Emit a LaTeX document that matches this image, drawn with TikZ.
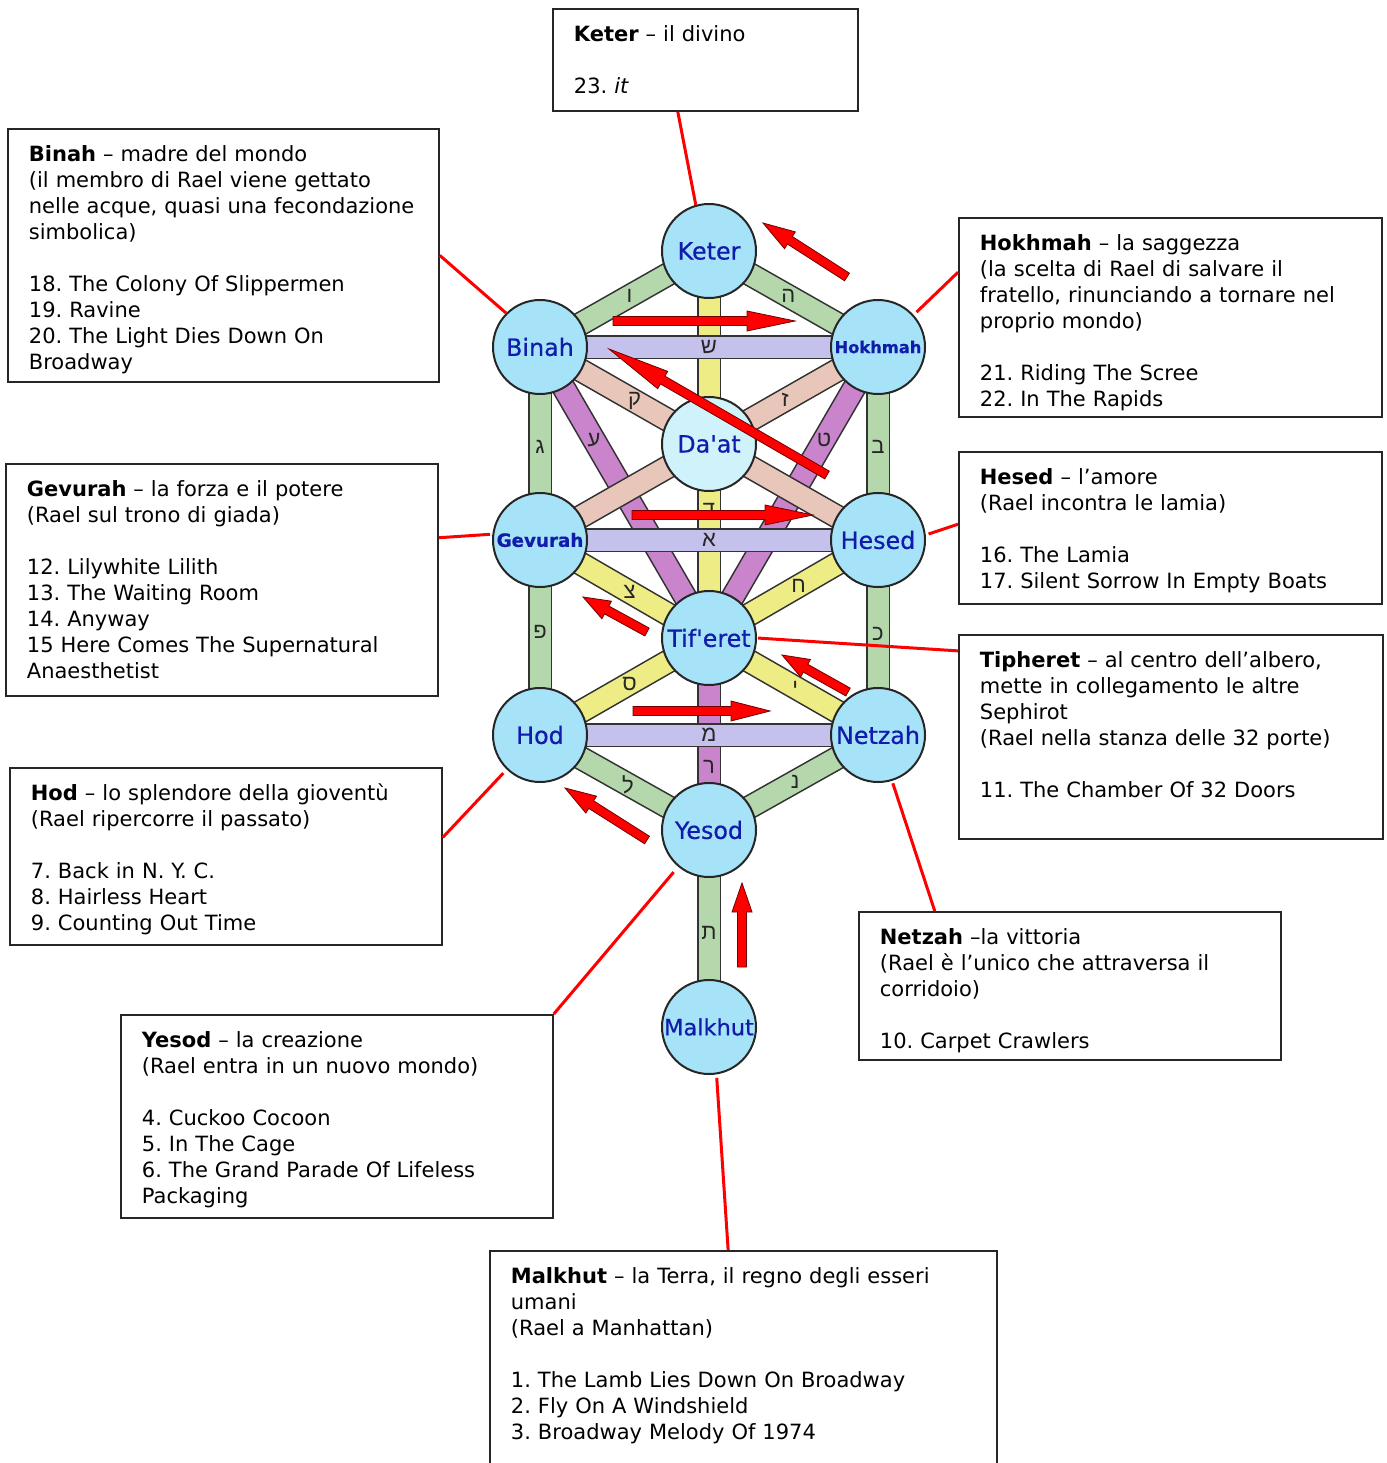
\documentclass[tikz,border=0pt]{standalone}
\usepackage{fontspec}
\setmainfont{DejaVu Sans}
\newfontfamily\labelfont{DejaVu Sans}[Ligatures=TeXOff, FakeBold=0.6]
\newfontfamily\hebfont[Script=Hebrew]{Liberation Sans}
\usepackage{tikz}
\usetikzlibrary{calc, backgrounds}
\frenchspacing
\definecolor{sephblue}{RGB}{166,227,248}
\definecolor{daatblue}{RGB}{208,242,250}
\definecolor{labelblue}{RGB}{18,28,170}
\definecolor{pathgreen}{RGB}{180,216,172}
\definecolor{pathyellow}{RGB}{238,236,132}
\definecolor{pathlav}{RGB}{196,194,236}
\definecolor{pathsalmon}{RGB}{232,198,186}
\definecolor{pathorchid}{RGB}{202,132,204}
\newcommand{\redarrow}[3]{%
  \coordinate (ah) at ($(#2)!#3pt!(#1)$);
  \filldraw[bigarrow] ($(#1)!4.5pt!90:(#2)$) -- ($(ah)!4.5pt!-90:(#1)$)
    -- ($(ah)!10pt!-90:(#1)$) -- (#2) -- ($(ah)!10pt!90:(#1)$)
    -- ($(ah)!4.5pt!90:(#1)$) -- ($(#1)!4.5pt!-90:(#2)$) -- cycle;}

\begin{document}
\begin{tikzpicture}[x=1pt, y=-1pt,
                  sephira/.style={circle,draw=black!85,line width=2pt,fill=sephblue,minimum size=94pt,
                    inner sep=0pt,text=labelblue,font=\labelfont\fontsize{23.8}{24}\selectfont},
                  bar/.style={draw=black!80,line width=1.6pt,double=#1,double distance=21pt},
                  letter/.style={font=\hebfont\fontsize{22}{22}\selectfont,text=black!85,inner sep=0pt},
                  infobox/.style={draw=black!85,line width=1.8pt,anchor=north west,inner xsep=21pt,
                    inner ysep=0pt,align=left,text height=32.5pt,font=\fontsize{21}{26}\selectfont},
                  link/.style={draw=red,line width=3pt},
                  bigarrow/.style={fill=red,draw=red!45!black,line width=0.8pt}
                  ]
                  \useasboundingbox (0,0) rectangle (1386,1463);
                  \node[sephira] (keter) at (709,251) {Keter};
                  \node[sephira] (binah) at (540,347) {Binah};
                  \node[sephira, font=\labelfont\bfseries\fontsize{16.3}{17}\selectfont] (hokhmah) at (878,347) {Hokhmah};
                  \node[sephira, fill=daatblue] (daat) at (709,444) {Da'at};
                  \node[sephira, font=\labelfont\bfseries\fontsize{18.3}{19}\selectfont] (gevurah) at (540,540) {Gevurah};
                  \node[sephira] (hesed) at (878,540) {Hesed};
                  \node[sephira] (tiferet) at (709,638) {Tif'eret};
                  \node[sephira] (hod) at (540,735) {Hod};
                  \node[sephira] (netzah) at (878,735) {Netzah};
                  \node[sephira] (yesod) at (709,830) {Yesod};
                  \node[sephira, font=\labelfont\fontsize{22.5}{23}\selectfont] (malkhut) at (709,1027) {Malkhut};

                  \begin{scope}[on background layer]
                  \fill[white] (0,0) rectangle (1386,1463);
                  \draw[bar=pathgreen] (keter.center) -- node[letter, pos=0.47] {ו} (binah.center);
                  \draw[bar=pathgreen] (keter.center) -- node[letter, pos=0.47] {ה} (hokhmah.center);
                  \draw[bar=pathgreen] (binah.center) -- node[letter, pos=0.52] {ג} (gevurah.center);
                  \draw[bar=pathgreen] (hokhmah.center) -- node[letter, pos=0.52] {ב} (hesed.center);
                  \draw[bar=pathgreen] (gevurah.center) -- node[letter, pos=0.47] {פ} (hod.center);
                  \draw[bar=pathgreen] (hesed.center) -- node[letter, pos=0.48] {כ} (netzah.center);
                  \draw[bar=pathgreen] (hod.center) -- node[letter, pos=0.52] {ל} (yesod.center);
                  \draw[bar=pathgreen] (netzah.center) -- node[letter, pos=0.49] {נ} (yesod.center);
                  \draw[bar=pathgreen] (yesod.center) -- node[letter, pos=0.52] {ת} (malkhut.center);
                  \draw[bar=pathyellow] (keter.center) -- node[letter, pos=0.67] {ד} (tiferet.center);
                  \draw[bar=pathyellow] (gevurah.center) -- node[letter, pos=0.53] {צ} (tiferet.center);
                  \draw[bar=pathyellow] (hesed.center) -- node[letter, pos=0.47] {ח} (tiferet.center);
                  \draw[bar=pathyellow] (hod.center) -- node[letter, pos=0.53] {ס} (tiferet.center);
                  \draw[bar=pathyellow] (netzah.center) -- node[letter, pos=0.49] {י} (tiferet.center);
                  \draw[bar=pathorchid] (binah.center) -- node[letter, pos=0.32] {ע} (tiferet.center);
                  \draw[bar=pathorchid] (hokhmah.center) -- node[letter, pos=0.32] {ט} (tiferet.center);
                  \draw[bar=pathorchid] (tiferet.center) -- node[letter, pos=0.67] {ר} (yesod.center);
                  \draw[bar=pathsalmon] (binah.center) -- node[letter, pos=0.28] {ק} (hesed.center);
                  \draw[bar=pathsalmon] (hokhmah.center) -- node[letter, pos=0.275] {ז} (gevurah.center);
                  \draw[bar=pathlav] (binah.center) -- node[letter, pos=0.5] {ש} (hokhmah.center);
                  \draw[bar=pathlav] (gevurah.center) -- node[letter, pos=0.5] {א} (hesed.center);
                  \draw[bar=pathlav] (hod.center) -- node[letter, pos=0.5] {מ} (netzah.center);
                  \end{scope}

                  \node[infobox, text width=263pt, text depth=69.5pt] (keterbox) at (552,8)
                    {\textbf{Keter} – il divino\\[26pt]
                     23. \textit{it}};
                  \node[infobox, text width=389pt, text depth=220.5pt] (binahbox) at (7,128)
                    {\textbf{Binah} – madre del mondo\\
                     (il membro di Rael viene gettato\\
                     nelle acque, quasi una fecondazione\\
                     simbolica)\\[26pt]
                     18. The Colony Of Slippermen\\
                     19. Ravine\\
                     20. The Light Dies Down On\\
                     Broadway};
                  \node[infobox, text width=381pt, text depth=166.5pt] (hokhmahbox) at (958,217)
                    {\textbf{Hokhmah} – la saggezza\\
                     (la scelta di Rael di salvare il\\
                     fratello, rinunciando a tornare nel\\
                     proprio mondo)\\[26pt]
                     21. Riding The Scree\\
                     22. In The Rapids};
                  \node[infobox, text width=390pt, text depth=199.5pt] (gevurahbox) at (5,463)
                    {\textbf{Gevurah} – la forza e il potere\\
                     (Rael sul trono di giada)\\[26pt]
                     12. Lilywhite Lilith\\
                     13. The Waiting Room\\
                     14. Anyway\\
                     15 Here Comes The Supernatural\\
                     Anaesthetist};
                  \node[infobox, text width=381pt, text depth=119.5pt] (hesedbox) at (958,451)
                    {\textbf{Hesed} – l’amore\\
                     (Rael incontra le lamia)\\[26pt]
                     16. The Lamia\\
                     17. Silent Sorrow In Empty Boats};
                  \node[infobox, text width=382pt, text depth=171.5pt] (tipheretbox) at (958,634)
                    {\textbf{Tipheret} – al centro dell’albero,\\
                     mette in collegamento le altre\\
                     Sephirot\\
                     (Rael nella stanza delle 32 porte)\\[26pt]
                     11. The Chamber Of 32 Doors};
                  \node[infobox, text width=390pt, text depth=144.5pt] (hodbox) at (9,767)
                    {\textbf{Hod} – lo splendore della gioventù\\
                     (Rael ripercorre il passato)\\[26pt]
                     7. Back in N. Y. C.\\
                     8. Hairless Heart\\
                     9. Counting Out Time};
                  \node[infobox, text width=380pt, text depth=115.5pt] (netzahbox) at (858,911)
                    {\textbf{Netzah} –la vittoria\\
                     (Rael è l’unico che attraversa il\\
                     corridoio)\\[26pt]
                     10. Carpet Crawlers};
                  \node[infobox, text width=390pt, text depth=170.5pt] (yesodbox) at (120,1014)
                    {\textbf{Yesod} – la creazione\\
                     (Rael entra in un nuovo mondo)\\[26pt]
                     4. Cuckoo Cocoon\\
                     5. In The Cage\\
                     6. The Grand Parade Of Lifeless\\
                     Packaging};
                  \node[infobox, text width=465pt, text depth=197.5pt] (malkhutbox) at (489,1250)
                    {\textbf{Malkhut} – la Terra, il regno degli esseri\\
                     umani\\
                     (Rael a Manhattan)\\[26pt]
                     1. The Lamb Lies Down On Broadway\\
                     2. Fly On A Windshield\\
                     3. Broadway Melody Of 1974};

                  \draw[link] (keterbox.242) -- (keter.106);
                  \draw[link] (binahbox.east) -- (binah.135);
                  \draw[link, shorten <=4pt] (hokhmah.42) -- (hokhmahbox.168);
                  \draw[link, shorten >=2.5pt] (gevurahbox.11) -- (gevurah.173);
                  \draw[link, shorten <=3pt] (hesed.6) -- (hesedbox.179);
                  \draw[link, shorten <=1pt] (tiferet.east) -- (tipheretbox.158);
                  \draw[link, shorten <=5pt] (hod.226) -- (hodbox.5);
                  \draw[link, shorten <=2.5pt] (netzah.287) -- (netzahbox.151);
                  \draw[link, shorten <=7pt] (yesod.230) -- (yesodbox.north east);
                  \draw[link, shorten <=3.5pt] (malkhut.279) -- ($(malkhutbox.north west)!0.47!(malkhutbox.north east)$);

                  \coordinate (a1) at (847,277); \coordinate (b1) at (763,223); \redarrow{a1}{b1}{32}
                  \coordinate (a2) at (613,321); \coordinate (b2) at (795,321); \redarrow{a2}{b2}{48}
                  \coordinate (a3) at (827,475); \coordinate (b3) at (609,349); \redarrow{a3}{b3}{62}
                  \coordinate (a4) at (632,515); \coordinate (b4) at (813,515); \redarrow{a4}{b4}{48}
                  \coordinate (a5) at (647,632); \coordinate (b5) at (583,597); \redarrow{a5}{b5}{27}
                  \coordinate (a6) at (848,692); \coordinate (b6) at (782,655); \redarrow{a6}{b6}{27}
                  \coordinate (a7) at (633,711); \coordinate (b7) at (770,711); \redarrow{a7}{b7}{39}
                  \coordinate (a8) at (647,840); \coordinate (b8) at (565,788); \redarrow{a8}{b8}{31}
                  \coordinate (a9) at (742,967); \coordinate (b9) at (742,883); \redarrow{a9}{b9}{29}
                \end{tikzpicture}
\end{document}
